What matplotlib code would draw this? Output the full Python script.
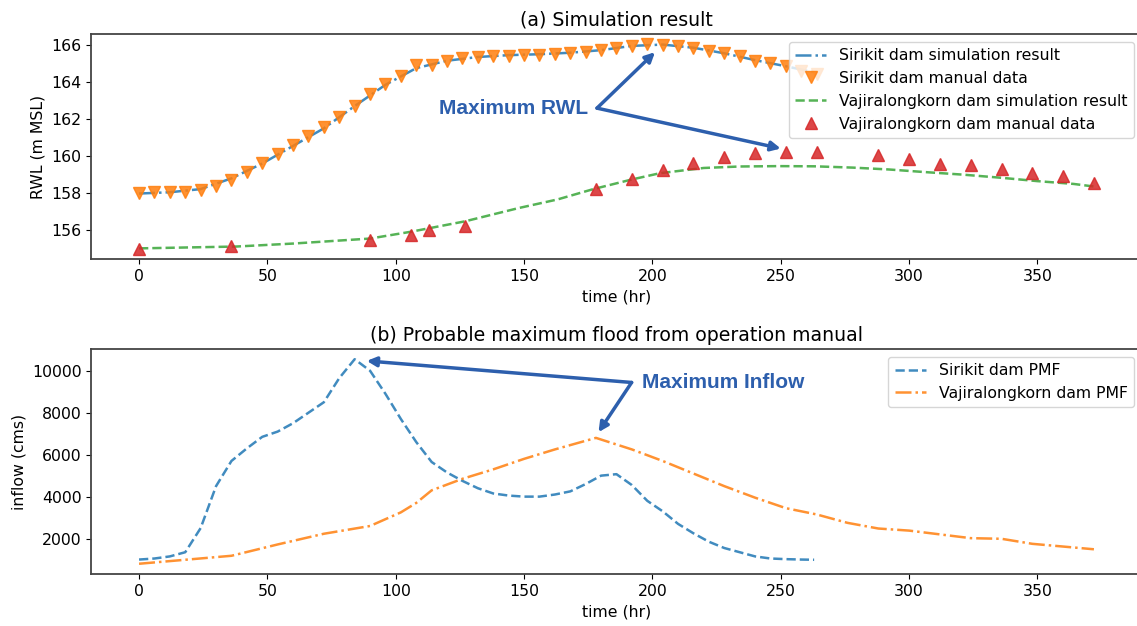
import matplotlib
matplotlib.use("Agg")
import matplotlib.pyplot as plt

# (a) simulation result -----------------------------------------------------
sirikit_sim_t = [0, 12, 24, 36, 48, 60, 72, 84, 96, 108, 120, 132, 144, 156,
                 168, 180, 192, 204, 216, 228, 240, 252, 264]
sirikit_sim = [157.98, 158.05, 158.22, 158.8, 159.6, 160.55, 161.5, 162.7,
               163.85, 164.75, 165.15, 165.35, 165.45, 165.5, 165.58, 165.72,
               165.95, 166.02, 165.85, 165.55, 165.18, 164.85, 164.5]

sirikit_manual_t = list(range(0, 265, 6))
sirikit_manual = [158.02, 158.05, 158.05, 158.05, 158.15, 158.38, 158.71, 159.14,
                  159.61, 160.10, 160.59, 161.06, 161.55, 162.09, 162.72, 163.35,
                  163.89, 164.34, 164.93, 164.93, 165.16, 165.29, 165.34, 165.38,
                  165.43, 165.47, 165.47, 165.52, 165.55, 165.62, 165.74, 165.83,
                  165.95, 166.04, 166.01, 165.94, 165.83, 165.68, 165.58, 165.38,
                  165.16, 165.03, 164.85, 164.62, 164.44]

vaji_sim_t = [0, 38, 60, 90, 106, 127, 148, 163, 177, 192, 203, 220, 234, 249,
              263, 278, 292, 306, 321, 336, 350, 364, 372]
vaji_sim = [155.02, 155.12, 155.28, 155.55, 155.92, 156.48, 157.2, 157.66,
            158.22, 158.74, 159.08, 159.36, 159.44, 159.46, 159.45, 159.38,
            159.28, 159.14, 159.0, 158.83, 158.65, 158.5, 158.36]

vaji_manual_t = [0, 36, 90, 106, 113, 127, 178, 192, 204, 216, 228, 240, 252,
                 264, 288, 300, 312, 324, 336, 348, 360, 372]
vaji_manual = [155.0, 155.13, 155.49, 155.76, 155.99, 156.25, 158.24, 158.76,
               159.25, 159.65, 159.95, 160.15, 160.22, 160.22, 160.04, 159.87,
               159.59, 159.5, 159.29, 159.07, 158.9, 158.56]

# (b) probable maximum flood ------------------------------------------------
sirikit_pmf_t = [0, 6, 12, 18, 24, 30, 36, 42, 48, 54, 60, 66, 72, 78, 84, 90,
                 96, 102, 108, 114, 120, 126, 132, 138, 144, 150, 156, 162, 168,
                 174, 180, 186, 192, 198, 204, 210, 216, 222, 228, 234, 240, 246,
                 252, 258, 263]
sirikit_pmf = [1000, 1050, 1150, 1350, 2500, 4500, 5700, 6300, 6850, 7100, 7500,
               8000, 8500, 9650, 10550, 10000, 8900, 7700, 6600, 5650, 5150, 4750,
               4400, 4150, 4050, 4000, 4000, 4100, 4250, 4600, 5000, 5070, 4550,
               3800, 3300, 2700, 2250, 1850, 1550, 1350, 1150, 1050, 1020, 1000, 990]

vaji_pmf_t = [0, 18, 36, 54, 72, 90, 102, 108, 114, 126, 138, 150, 162, 178,
              192, 204, 216, 228, 240, 252, 264, 276, 288, 300, 312, 324, 336,
              348, 360, 372]
vaji_pmf = [800, 990, 1180, 1720, 2230, 2600, 3250, 3700, 4300, 4850, 5300, 5800,
            6250, 6800, 6250, 5700, 5100, 4500, 3950, 3450, 3150, 2750, 2480, 2380,
            2200, 2020, 1990, 1750, 1620, 1490]

note_color = "#2d5fad"
plt.rcParams["font.size"] = 11.3

fig = plt.figure(figsize=(11.37, 6.26), dpi=100)
ax1 = fig.add_axes([0.0803, 0.5863, 0.9238, 0.3594])
ax2 = fig.add_axes([0.0803, 0.0831, 0.9238, 0.3594])

ax1.plot(sirikit_sim_t, sirikit_sim, "-.", color="#1f77b4", lw=1.8, alpha=0.85,
         label="Sirikit dam simulation result")
ax1.plot(sirikit_manual_t, sirikit_manual, "v", color="#ff7f0e", ms=9, alpha=0.85,
         label="Sirikit dam manual data")
ax1.plot(vaji_sim_t, vaji_sim, "--", color="#2ca02c", lw=1.8, alpha=0.8,
         label="Vajiralongkorn dam simulation result")
ax1.plot(vaji_manual_t, vaji_manual, "^", color="#d62728", ms=8, alpha=0.85,
         label="Vajiralongkorn dam manual data")
ax1.set_title("(a) Simulation result", fontsize=13.6)
ax1.set_xlabel("time (hr)")
ax1.set_ylabel("RWL (m MSL)")
ax1.set_yticks([156, 158, 160, 162, 164, 166])
ax1.legend(loc="upper right")

arrow = dict(arrowstyle="-|>", color=note_color, lw=2.5, mutation_scale=14,
             shrinkA=0, shrinkB=0)
ax1.annotate("", xy=(201, 165.61), xytext=(178.4, 162.59), arrowprops=arrow)
ax1.annotate("", xy=(250, 160.41), xytext=(178.4, 162.59), arrowprops=arrow)
ax1.text(175, 162.59, "Maximum RWL", color=note_color, fontsize=15,
         fontweight="bold", family="Liberation Sans", ha="right", va="center")

ax2.plot(sirikit_pmf_t, sirikit_pmf, "--", color="#1f77b4", lw=1.8, alpha=0.85,
         label="Sirikit dam PMF")
ax2.plot(vaji_pmf_t, vaji_pmf, "-.", color="#ff7f0e", lw=1.8, alpha=0.85,
         label="Vajiralongkorn dam PMF")
ax2.set_title("(b) Probable maximum flood from operation manual", fontsize=13.6)
ax2.set_xlabel("time (hr)")
ax2.set_ylabel("inflow (cms)")
ax2.legend(loc="upper right")

ax2.annotate("", xy=(88.7, 10470), xytext=(191.9, 9442), arrowprops=arrow)
ax2.annotate("", xy=(179, 7072), xytext=(191.9, 9442), arrowprops=arrow)
ax2.text(196, 9442, "Maximum Inflow", color=note_color, fontsize=15,
         fontweight="bold", family="Liberation Sans", ha="left", va="center")

for ax in (ax1, ax2):
    ax.set_xticks([0, 50, 100, 150, 200, 250, 300, 350])
    for s in ax.spines.values():
        s.set_color("#444444")
        s.set_linewidth(1.3)

fig.savefig("out.png", dpi=100)
